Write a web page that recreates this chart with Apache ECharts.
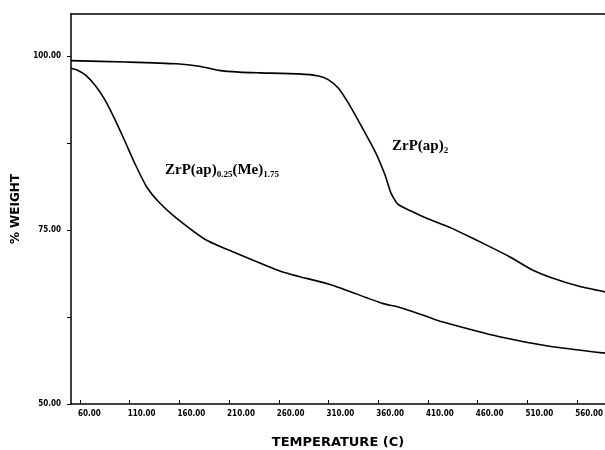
<!DOCTYPE html>
<html>
<head>
<meta charset="utf-8">
<script src="https://cdn.jsdelivr.net/npm/echarts@6/dist/echarts.min.js"></script>
<style>
  html, body { margin: 0; padding: 0; background: #fff; }
  #chart { width: 605px; height: 450px; }
</style>
</head>
<body>
<div id="chart"></div>
<script>
// x tick labels (temperature, C)
var xTicks = [60, 110, 160, 210, 260, 310, 360, 410, 460, 510, 560];
var yLabels = [50, 75, 100];
var yTicks = [50, 62.5, 75, 87.5, 100];

// ZrP(ap)2 : [temperature, % weight]
var apTemp = [51, 107, 157, 180, 200, 220, 240, 280, 300, 310, 320, 330, 343, 357, 367, 373, 380, 393, 408, 431, 441, 472, 492, 515, 535, 562, 588];
var apWeight = [99.3, 99.1, 98.85, 98.5, 97.9, 97.65, 97.55, 97.4, 97.1, 96.55, 95.35, 93.2, 89.9, 86.2, 82.8, 80.2, 78.65, 77.7, 76.7, 75.4, 74.75, 72.6, 71.15, 69.25, 68.1, 66.9, 66.1];

// ZrP(ap)0.25(Me)1.75
var meTemp = [51, 58, 66, 75, 85, 95, 105, 115, 127, 140, 157, 187, 213, 263, 313, 364, 381, 411, 424, 482, 532, 588];
var meWeight = [98.2, 97.9, 97.2, 95.8, 93.7, 90.9, 87.8, 84.6, 81.2, 78.9, 76.7, 73.55, 71.9, 69.0, 67.1, 64.45, 63.9, 62.45, 61.8, 59.65, 58.3, 57.3];

function pairs(xs, ys) {
  return xs.map(function (x, i) { return [x, ys[i]]; });
}

var chart = echarts.init(document.getElementById("chart"));
var labelFont = { fontFamily: "DejaVu Sans Condensed", fontWeight: "bold", fontSize: 8, color: "#000" };

chart.setOption({
  animation: false,
  grid: { left: 71, right: 0, top: 14, bottom: 46, outerBoundsMode: "none" },
  xAxis: [
    {
      type: "value",
      min: 51,
      max: 588,
      name: "TEMPERATURE (C)",
      nameLocation: "middle",
      nameGap: 32,
      nameTextStyle: { fontFamily: "DejaVu Sans", fontWeight: "bold", fontSize: 13, color: "#000" },
      axisLine: { lineStyle: { color: "#000", width: 1.5 } },
      axisTick: { customValues: xTicks, length: 4, inside: true, lineStyle: { color: "#000" } },
      axisLabel: Object.assign({ customValues: xTicks, margin: 6, align: "left", padding: [0, 0, 0, -2],
        formatter: function (v) { return v.toFixed(2); } }, labelFont),
      splitLine: { show: false }
    },
    {
      type: "value",
      position: "top",
      min: 51,
      max: 588,
      axisLine: { lineStyle: { color: "#000", width: 1.5 } },
      axisTick: { show: false },
      axisLabel: { show: false },
      splitLine: { show: false }
    }
  ],
  yAxis: {
    type: "value",
    min: 50,
    max: 106,
    name: "% WEIGHT",
    nameLocation: "middle",
    nameGap: 46,
    nameRotate: 90,
    nameTextStyle: { fontFamily: "DejaVu Sans", fontWeight: "bold", fontSize: 12, color: "#000" },
    axisLine: { show: true, lineStyle: { color: "#000", width: 1.5 } },
    axisTick: { customValues: yTicks, length: 4, lineStyle: { color: "#000" } },
    axisLabel: Object.assign({ customValues: yLabels, margin: 10,
      formatter: function (v) { return v.toFixed(2); } }, labelFont),
    splitLine: { show: false }
  },
  graphic: [
    {
      type: "text",
      left: 165,
      top: 163,
      style: {
        rich: {
          m: { fontFamily: "Liberation Serif", fontWeight: "bold", fontSize: 15, fill: "#000" },
          s: { fontFamily: "Liberation Serif", fontWeight: "bold", fontSize: 9, fill: "#000", padding: [8, 0, 0, 0] }
        },
        text: "{m|ZrP(ap)}{s|0.25}{m|(Me)}{s|1.75}"
      }
    },
    {
      type: "text",
      left: 392,
      top: 139,
      style: {
        rich: {
          m: { fontFamily: "Liberation Serif", fontWeight: "bold", fontSize: 15, fill: "#000" },
          s: { fontFamily: "Liberation Serif", fontWeight: "bold", fontSize: 9, fill: "#000", padding: [8, 0, 0, 0] }
        },
        text: "{m|ZrP(ap)}{s|2}"
      }
    }
  ],
  series: [
    {
      name: "ZrP(ap)2",
      type: "line",
      data: pairs(apTemp, apWeight),
      smooth: 0.2,
      showSymbol: false,
      lineStyle: { color: "#000", width: 1.6 }
    },
    {
      name: "ZrP(ap)0.25(Me)1.75",
      type: "line",
      data: pairs(meTemp, meWeight),
      smooth: 0.2,
      showSymbol: false,
      lineStyle: { color: "#000", width: 1.6 }
    }
  ]
});
</script>
</body>
</html>
